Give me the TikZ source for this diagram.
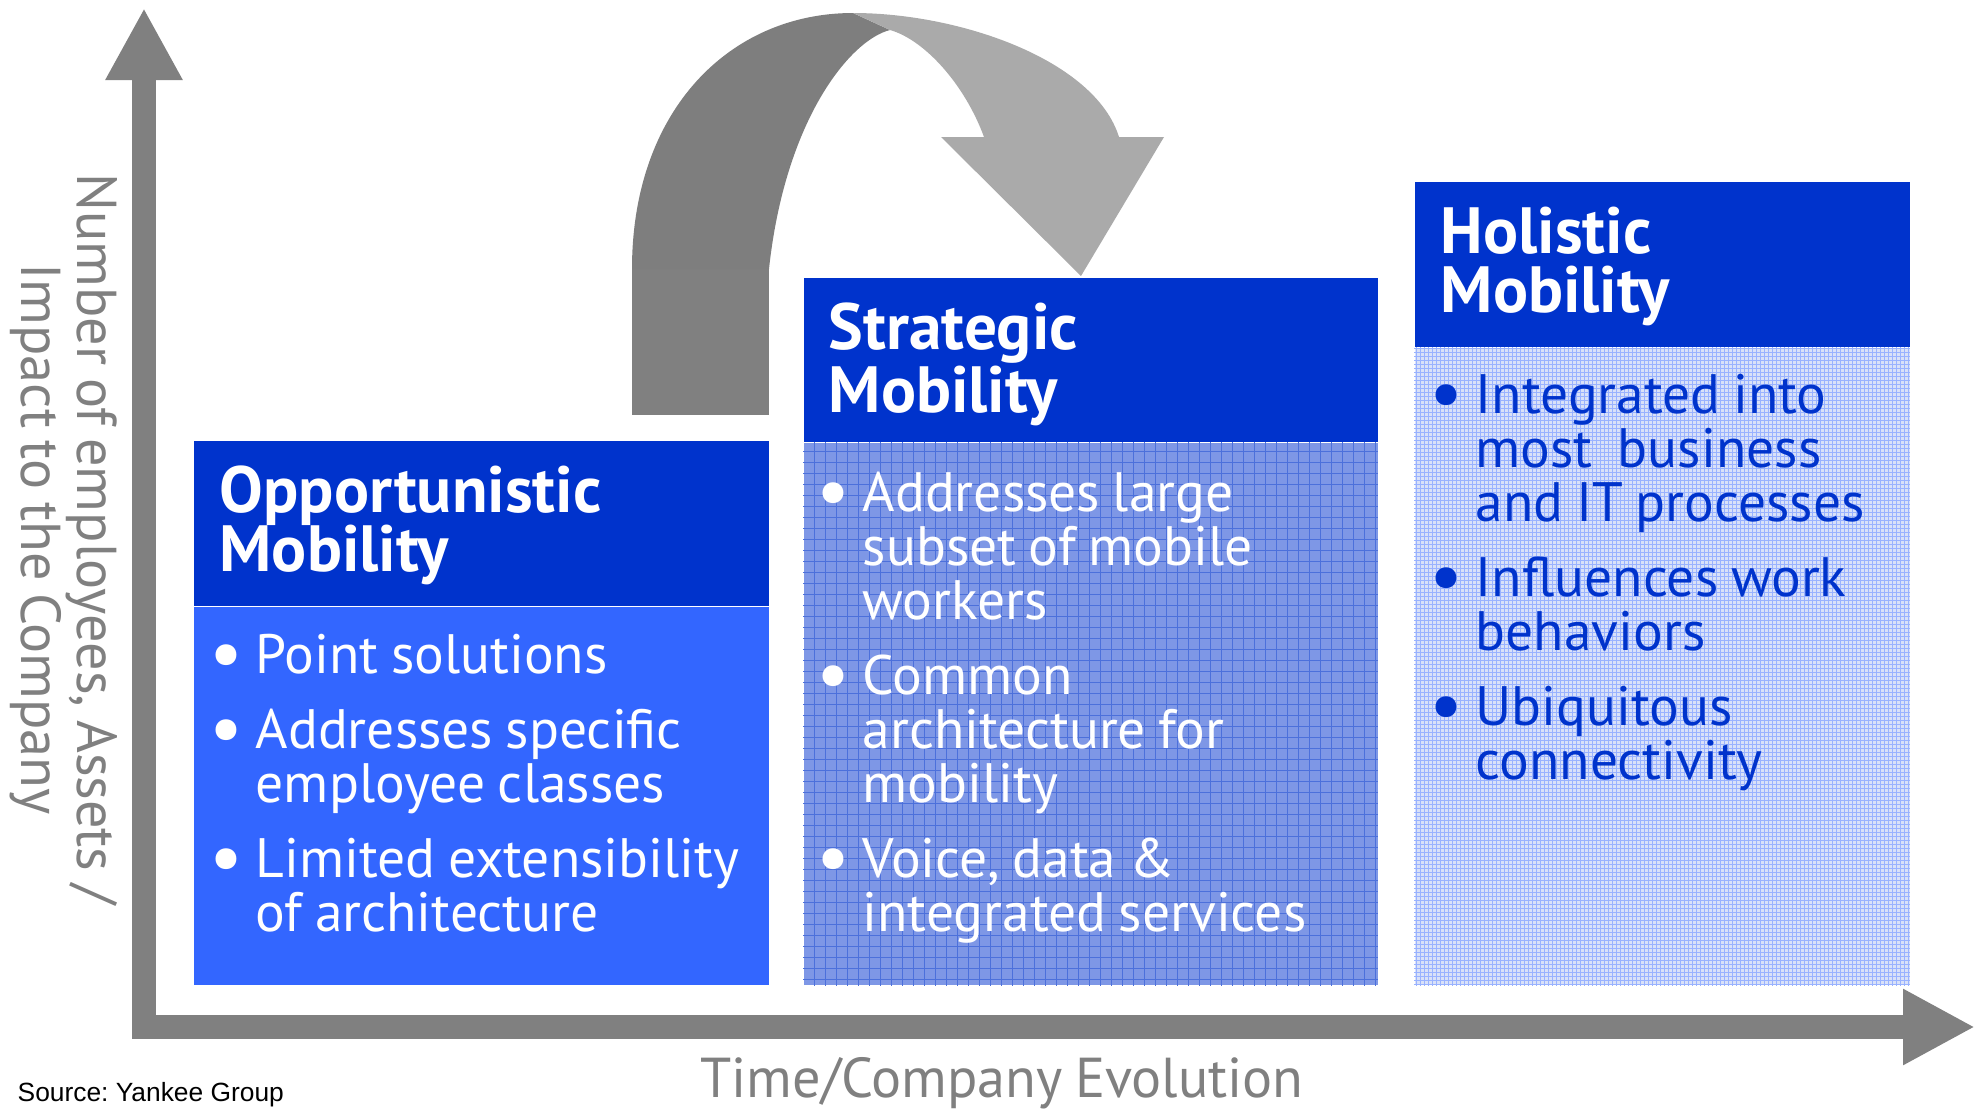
\documentclass[tikz,border=0pt]{standalone}
\usepackage{graphicx}
\usepackage{fontspec}
\setmainfont{PT Sans}[WordSpace=0.85]
\newfontfamily\sourcefont{Liberation Sans}
\frenchspacing
\usetikzlibrary{positioning,calc,arrows.meta}
\definecolor{mobdark}{HTML}{0033CC}
\definecolor{mobbright}{HTML}{3366FF}
\definecolor{mobmid}{HTML}{7E97E6}
\definecolor{mobpale}{HTML}{D9E1F8}
\definecolor{axisgray}{HTML}{808080}
\definecolor{arcdark}{HTML}{7E7E7E}
\definecolor{arclight}{HTML}{AAAAAA}
\tikzstyle{header} = [rectangle, fill=mobdark, anchor=north west, inner sep=0, minimum height=16.5mm]
\tikzstyle{body} = [rectangle, inner sep=0]
\tikzstyle{title} = [anchor=base west, inner sep=0, text=white, text width=52mm, align=flush left, font=\fontsize{18.6}{17.07}\selectfont\bfseries]
\tikzstyle{points} = [anchor=base west, inner sep=0, text=white, text width=52mm, align=flush left, font=\fontsize{15.8}{15.36}\selectfont]
\tikzstyle{axislabel} = [inner sep=0, text=axisgray, font=\fontsize{16}{15.93}\selectfont]
\tikzstyle{axis} = [draw=axisgray, line width=2.4mm, line join=miter, {Triangle[length=7.2mm,width=7.2mm]}-{Triangle[length=7.2mm,width=7.1mm]}]
\tikzstyle{gridline} = [draw, line width=0.08mm]
\newcommand{\bul}{\leavevmode\llap{\raisebox{-0.55mm}{\scalebox{1.35}{\textbullet}}\hspace{1.2mm}}}

\begin{document}
\begin{tikzpicture}[x=0.1mm, y=-0.1mm]
    \path[use as bounding box, fill=white] (0,0) rectangle (1983,1110);

    \fill[axisgray] (632,269) rectangle (769,415);
    \fill[arcdark] (632,269) .. controls (632,110) and (730,13) .. (853,13) -- (890,30)
        .. controls (850,40) and (785,120) .. (769,269) -- cycle;
    \fill[arclight] (853,13) .. controls (960,13) and (1095,60) .. (1119,137) -- (1164,137)
        -- (1081,276) -- (941,137) -- (984,137) .. controls (965,85) and (925,40) .. (890,30) -- cycle;

    \coordinate (ytop) at (144,8);
    \coordinate (origin) at (144,1027);
    \coordinate (xend) at (1975,1027);
    \draw[axis] (ytop) -- (origin) -- (xend);

    \node [header, minimum width=57.5mm] (opp-head) at (193,440) {};
    \node [body, below=0pt of opp-head, fill=mobbright, minimum width=57.5mm, minimum height=37.8mm] (opp-body) {};
    \node [header, minimum width=57.4mm, minimum height=16.4mm] (str-head) at (803,277) {};
    \node [body, below=0pt of str-head, fill=mobmid, minimum width=57.4mm, minimum height=54.2mm] (str-body) {};
    \node [header, minimum width=49.5mm] (hol-head) at (1414,181) {};
    \node [body, below=0pt of hol-head, fill=mobpale, minimum width=49.5mm, minimum height=63.7mm] (hol-body) {};

    \path [gridline, draw=mobdark!70, step=1.1mm] (str-body.north west) grid (str-body.south east);
    \path [gridline, draw=mobbright!50, step=0.4mm] (hol-body.north west) grid (hol-body.south east);

    \node [title] (opp-title) at ($(opp-head.north west)+(26,72)$) {Opportunistic\\Mobility};
    \node [title] (str-title) at ($(str-head.north west)+(25,72)$) {Strategic\\Mobility};
    \node [title] (hol-title) at ($(hol-head.north west)+(26,72)$) {Holistic\\Mobility};

    \node [points] (opp-points) at ($(opp-body.north west)+(62,67)$)
        {\bul Point solutions\\[2.1mm]\bul Addresses specific\\employee classes\\[2.1mm]\bul Limited extensibility\\of architecture};
    \node [points] (str-points) at ($(str-body.north west)+(59,69)$)
        {\bul Addresses large\\subset of mobile\\workers\\[2.1mm]\bul Common\\architecture for\\mobility\\[2.1mm]\bul Voice, data \&\\integrated services};
    \node [points, text=mobdark] (hol-points) at ($(hol-body.north west)+(61,66)$)
        {\bul Integrated into\\most~ business\\and IT processes\\[2.1mm]\bul Influences work\\behaviors\\[2.1mm]\bul Ubiquitous\\connectivity};

    \node [axislabel, rotate=-90, align=center] (y-label) at (64,539) {Number of employees, Assets /\\Impact to the Company};
    \node [axislabel, anchor=base west] (x-label) at (700,1097) {Time/Company Evolution};
    \node [anchor=base west, inner sep=0, font=\sourcefont\fontsize{7.5}{9}\selectfont] (source) at (17,1101) {Source: Yankee Group};
\end{tikzpicture}
\end{document}
